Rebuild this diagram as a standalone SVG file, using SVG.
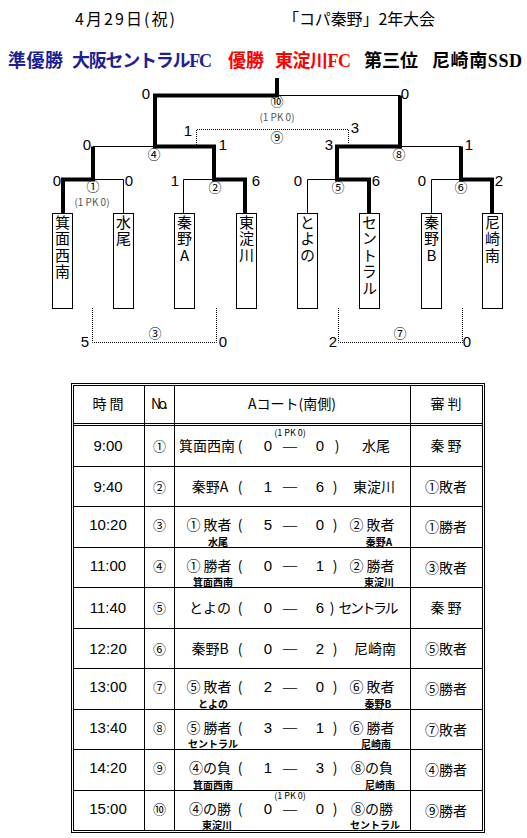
<svg xmlns="http://www.w3.org/2000/svg" width="527" height="838" viewBox="0 0 527 838">
<style>
text{font-family:'Noto Sans CJK JP',sans-serif;fill:#000}
.h1{font-size:16px}
.h2{font-family:'Liberation Serif','Noto Sans CJK JP',serif;font-size:18px;font-weight:bold}
.blue{fill:#1e1e96}
.red{fill:#ff0000}
.n{font-family:'Liberation Sans Narrow','Liberation Sans',sans-serif;font-size:15px;text-anchor:middle}
.c{font-size:13px;text-anchor:middle}
.pk{font-size:10px;fill:#555;text-anchor:middle}
.vt{font-size:15px;writing-mode:vertical-rl;text-orientation:upright;letter-spacing:1.5px}
.m{font-size:14px;text-anchor:middle}
.tm{font-family:'Liberation Sans',sans-serif;font-size:15px;text-anchor:middle}
.sc{font-family:'Liberation Sans Narrow','Liberation Sans',sans-serif;font-size:15px;text-anchor:middle}
.d{font-size:10px;text-anchor:middle}
.s{font-size:10px;font-weight:bold}
.sp{font-size:9px;text-anchor:middle}
.thick{stroke:#000;stroke-width:4;fill:none;stroke-linejoin:miter}
.thin{stroke:#000;stroke-width:1;fill:none}
.dot{stroke:#000;stroke-width:1;fill:none;stroke-dasharray:1 1}
.box{fill:#fff;stroke:#000;stroke-width:1}
.grid{stroke:#000;stroke-width:1;fill:none}
</style>

<g id="title">
<text class="h1" x="75" y="25" textLength="100">4月29日(祝)</text>
<text class="h1" x="283" y="25" textLength="152">「コパ秦野」2年大会</text>
<text class="h2 blue" x="8" y="67" textLength="55">準優勝</text>
<text class="h2 blue" x="72" y="67" textLength="140">大阪セントラルFC</text>
<text class="h2 red" x="228" y="67" textLength="36">優勝</text>
<text class="h2 red" x="275" y="67" textLength="76">東淀川FC</text>
<text class="h2" x="364" y="67" textLength="54">第三位</text>
<text class="h2" x="432" y="67" textLength="90">尼崎南SSD</text>
</g>

<g id="connectors">
<path class="thin" d="M63 179.5H123.5V213 M183.5 213V179.5H245 M307.5 213V179.5H369 M431.5 213V179.5H492 M93 146.5H214 M337 146.5H461 M155 95.5H400"/>
<path class="thick" d="M63 213V179.5H93V146.5"/>
<path class="thick" d="M245 213V179.5H214V146.5H155V95.5H277V78"/>
<path class="thick" d="M369 213V179.5H337V146.5H400V95.5"/>
<path class="thick" d="M492 213V179.5H461V146.5"/>
<path class="dot" d="M196.5 145V129.5H348.5V144"/>
<path class="dot" d="M92.5 308V342.5H216.5V308"/>
<path class="dot" d="M338.5 308V342.5H462.5V308"/>
</g>

<g id="bracket-labels">
<text class="c" x="277" y="106">⑩</text>
<text class="pk" x="277" y="121">(1 PK 0)</text>
<text class="c" x="277" y="142">⑨</text>
<text class="c" x="154" y="159">④</text>
<text class="c" x="399" y="159">⑧</text>
<text class="c" x="93" y="191">①</text>
<text class="pk" x="92" y="206">(1 PK 0)</text>
<text class="c" x="215" y="192">②</text>
<text class="c" x="338" y="192">⑤</text>
<text class="c" x="461" y="192">⑥</text>
<text class="c" x="155" y="338">③</text>
<text class="c" x="400" y="338">⑦</text>
<text class="n" x="146" y="99">0</text>
<text class="n" x="405" y="99">0</text>
<text class="n" x="188" y="136">1</text>
<text class="n" x="355" y="133">3</text>
<text class="n" x="87" y="150">0</text>
<text class="n" x="223" y="150">1</text>
<text class="n" x="329" y="150">3</text>
<text class="n" x="469" y="150">1</text>
<text class="n" x="57" y="186">0</text>
<text class="n" x="129" y="186">0</text>
<text class="n" x="175" y="186">1</text>
<text class="n" x="256" y="186">6</text>
<text class="n" x="298" y="186">0</text>
<text class="n" x="376" y="186">6</text>
<text class="n" x="422" y="186">0</text>
<text class="n" x="499" y="186">2</text>
<text class="n" x="85" y="347">5</text>
<text class="n" x="223" y="347">0</text>
<text class="n" x="333" y="347">2</text>
<text class="n" x="467" y="347">0</text>
</g>

<g id="team-minoo-seinan">
<rect class="box" x="52.5" y="213.5" width="20" height="95"/>
<text class="vt" x="62.5" y="214.5">箕面西南</text>
</g>
<g id="team-mizuo">
<rect class="box" x="113.5" y="213.5" width="20" height="95"/>
<text class="vt" x="123.5" y="214.5">水尾</text>
</g>
<g id="team-hadano-a">
<rect class="box" x="174.5" y="213.5" width="20" height="95"/>
<text class="vt" x="184.5" y="214.5">秦野A</text>
</g>
<g id="team-higashiyodogawa">
<rect class="box" x="236.5" y="213.5" width="20" height="95"/>
<text class="vt" x="246.5" y="214.5">東淀川</text>
</g>
<g id="team-toyono">
<rect class="box" x="297.5" y="213.5" width="20" height="95"/>
<text class="vt" x="307.5" y="214.5">とよの</text>
</g>
<g id="team-central">
<rect class="box" x="359.5" y="213.5" width="20" height="95"/>
<text class="vt" x="369.5" y="214.5">セントラル</text>
</g>
<g id="team-hadano-b">
<rect class="box" x="421.5" y="213.5" width="20" height="95"/>
<text class="vt" x="431.5" y="214.5">秦野B</text>
</g>
<g id="team-amagasaki-minami">
<rect class="box" x="482.5" y="213.5" width="20" height="95"/>
<text class="vt" x="492.5" y="214.5">尼崎南</text>
</g>

<g id="schedule">
<rect class="grid" x="71.5" y="383.5" width="413" height="449"/>
<rect class="grid" x="73.5" y="385.5" width="409" height="445"/>
<path class="grid" d="M73.5 423.5H482.5 M73.5 425.5H482.5 M73.5 466.5H482.5 M73.5 506.5H482.5 M73.5 547.5H482.5 M73.5 587.5H482.5 M73.5 628.5H482.5 M73.5 668.5H482.5 M73.5 709.5H482.5 M73.5 749.5H482.5 M73.5 790.5H482.5 M144.5 385.5V830.5 M174.5 385.5V830.5 M410.5 385.5V830.5"/>

<text class="m" x="108" y="409">時 間</text>
<text class="m" x="159.5" y="409" textLength="17" font-size="12">No.</text>
<text class="m" x="292" y="409">Aコート(南側)</text>
<text class="m" x="446" y="409">審 判</text>

<!-- row 1 -->
<text class="tm" x="108" y="451">9:00</text>
<text class="c" x="159.5" y="451">①</text>
<text class="m" x="207" y="451">箕面西南</text>
<text class="m" x="240" y="451">(</text>
<text class="sc" x="268" y="451">0</text>
<text class="sp" x="290" y="436">(1 PK 0)</text>
<text class="d" x="290" y="450" textLength="16" lengthAdjust="spacingAndGlyphs">—</text>
<text class="sc" x="320" y="451">0</text>
<text class="m" x="337" y="451">)</text>
<text class="m" x="376" y="451">水尾</text>
<text class="m" x="446" y="451">秦 野</text>

<!-- row 2 -->
<text class="tm" x="108" y="491.5">9:40</text>
<text class="c" x="159.5" y="491.5">②</text>
<text class="m" x="210" y="491.5">秦野A</text>
<text class="m" x="240" y="491.5">(</text>
<text class="sc" x="268" y="491.5">1</text>
<text class="d" x="290" y="490" textLength="16" lengthAdjust="spacingAndGlyphs">—</text>
<text class="sc" x="320" y="491.5">6</text>
<text class="m" x="335" y="491.5">)</text>
<text class="m" x="374" y="491.5">東淀川</text>
<text class="m" x="446" y="491.5">①敗者</text>

<!-- row 3 -->
<text class="tm" x="108" y="530">10:20</text>
<text class="c" x="159.5" y="530">③</text>
<text class="m" x="209" y="530">① 敗者<tspan class="s" x="218" y="546">水尾</tspan></text>
<text class="m" x="240" y="530">(</text>
<text class="sc" x="268" y="530">5</text>
<text class="d" x="290" y="528.5" textLength="16" lengthAdjust="spacingAndGlyphs">—</text>
<text class="sc" x="320" y="530">0</text>
<text class="m" x="335" y="530">)</text>
<text class="m" x="372" y="530">② 敗者<tspan class="s" x="379" y="546">秦野A</tspan></text>
<text class="m" x="446" y="532">①勝者</text>

<!-- row 4 -->
<text class="tm" x="108" y="570.5">11:00</text>
<text class="c" x="159.5" y="570.5">④</text>
<text class="m" x="209" y="570.5">① 勝者<tspan class="s" x="213" y="586">箕面西南</tspan></text>
<text class="m" x="240" y="570.5">(</text>
<text class="sc" x="268" y="570.5">0</text>
<text class="d" x="290" y="569" textLength="16" lengthAdjust="spacingAndGlyphs">—</text>
<text class="sc" x="320" y="570.5">1</text>
<text class="m" x="335" y="570.5">)</text>
<text class="m" x="372" y="570.5">② 勝者<tspan class="s" x="379" y="586">東淀川</tspan></text>
<text class="m" x="446" y="572.5">③敗者</text>

<!-- row 5 -->
<text class="tm" x="108" y="613">11:40</text>
<text class="c" x="159.5" y="613">⑤</text>
<text class="m" x="210" y="613">とよの</text>
<text class="m" x="240" y="613">(</text>
<text class="sc" x="268" y="613">0</text>
<text class="d" x="290" y="611.5" textLength="16" lengthAdjust="spacingAndGlyphs">—</text>
<text class="sc" x="320" y="613">6</text>
<text class="m" x="332" y="613">)</text>
<text class="m" x="368.5" y="613" textLength="60">セントラル</text>
<text class="m" x="446" y="613">秦 野</text>

<!-- row 6 -->
<text class="tm" x="108" y="653.5">12:20</text>
<text class="c" x="159.5" y="653.5">⑥</text>
<text class="m" x="210" y="653.5">秦野B</text>
<text class="m" x="240" y="653.5">(</text>
<text class="sc" x="268" y="653.5">0</text>
<text class="d" x="290" y="652" textLength="16" lengthAdjust="spacingAndGlyphs">—</text>
<text class="sc" x="320" y="653.5">2</text>
<text class="m" x="335" y="653.5">)</text>
<text class="m" x="375" y="653.5">尼崎南</text>
<text class="m" x="446" y="653.5">⑤敗者</text>

<!-- row 7 -->
<text class="tm" x="108" y="692">13:00</text>
<text class="c" x="159.5" y="692">⑦</text>
<text class="m" x="209" y="692">⑤ 敗者<tspan class="s" x="213" y="708">とよの</tspan></text>
<text class="m" x="240" y="692">(</text>
<text class="sc" x="268" y="692">2</text>
<text class="d" x="290" y="690.5" textLength="16" lengthAdjust="spacingAndGlyphs">—</text>
<text class="sc" x="320" y="692">0</text>
<text class="m" x="335" y="692">)</text>
<text class="m" x="372" y="692">⑥ 敗者<tspan class="s" x="378" y="708">秦野B</tspan></text>
<text class="m" x="446" y="694">⑤勝者</text>

<!-- row 8 -->
<text class="tm" x="108" y="732.5">13:40</text>
<text class="c" x="159.5" y="732.5">⑧</text>
<text class="m" x="209" y="732.5">⑤ 勝者<tspan class="s" x="213" y="748">セントラル</tspan></text>
<text class="m" x="240" y="732.5">(</text>
<text class="sc" x="268" y="732.5">3</text>
<text class="d" x="290" y="731" textLength="16" lengthAdjust="spacingAndGlyphs">—</text>
<text class="sc" x="320" y="732.5">1</text>
<text class="m" x="335" y="732.5">)</text>
<text class="m" x="372" y="732.5">⑥ 勝者<tspan class="s" x="376" y="748">尼崎南</tspan></text>
<text class="m" x="446" y="734.5">⑦敗者</text>

<!-- row 9 -->
<text class="tm" x="108" y="773">14:20</text>
<text class="c" x="159.5" y="773">⑨</text>
<text class="m" x="210" y="773">④の負<tspan class="s" x="213" y="789">箕面西南</tspan></text>
<text class="m" x="240" y="773">(</text>
<text class="sc" x="268" y="773">1</text>
<text class="d" x="290" y="771.5" textLength="16" lengthAdjust="spacingAndGlyphs">—</text>
<text class="sc" x="320" y="773">3</text>
<text class="m" x="335" y="773">)</text>
<text class="m" x="372" y="773">⑧の負<tspan class="s" x="380" y="789">尼崎南</tspan></text>
<text class="m" x="446" y="775">④勝者</text>

<!-- row 10 -->
<text class="tm" x="108" y="813.5">15:00</text>
<text class="c" x="159.5" y="813.5">⑩</text>
<text class="m" x="210" y="813.5">④の勝<tspan class="s" x="217" y="829">東淀川</tspan></text>
<text class="m" x="240" y="813.5">(</text>
<text class="sc" x="268" y="813.5">0</text>
<text class="sp" x="290" y="798.5">(1 PK 0)</text>
<text class="d" x="290" y="812.5" textLength="16" lengthAdjust="spacingAndGlyphs">—</text>
<text class="sc" x="320" y="813.5">0</text>
<text class="m" x="335" y="813.5">)</text>
<text class="m" x="372" y="813.5">⑧の勝<tspan class="s" x="375" y="829">セントラル</tspan></text>
<text class="m" x="446" y="815.5">⑨勝者</text>
</g>
</svg>
